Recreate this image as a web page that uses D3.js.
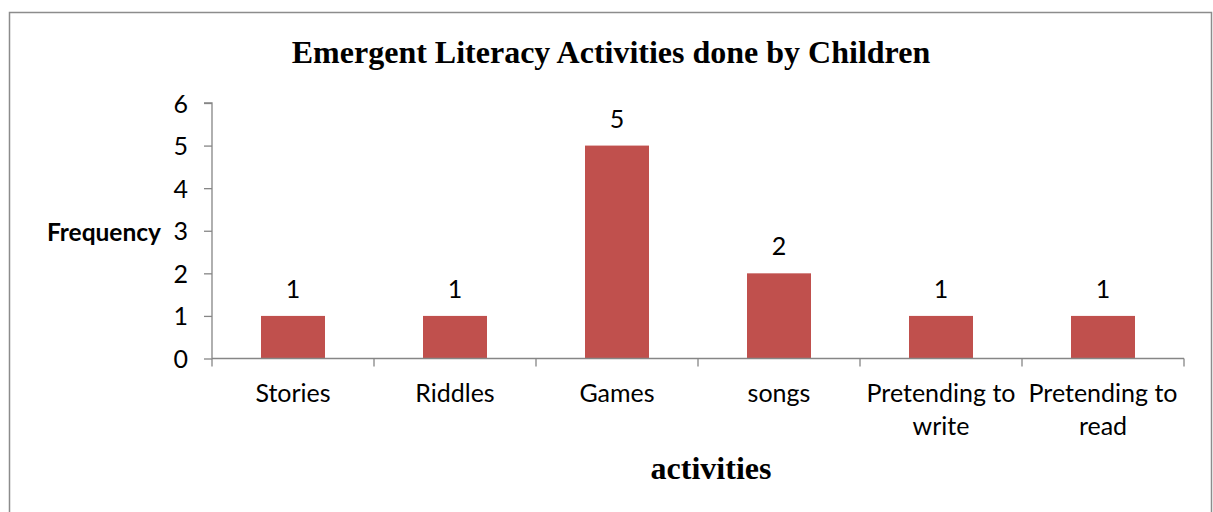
<!DOCTYPE html>
<html><head><meta charset="utf-8">
<script src="https://cdn.jsdelivr.net/npm/d3@7"></script>
<style>body{margin:0;background:#fff}svg{display:block}</style>
</head><body>
<svg id="c" width="1213" height="512"></svg>
<script>
const categories = [["Stories"],["Riddles"],["Games"],["songs"],["Pretending to","write"],["Pretending to","read"]];
const values = [1,1,5,2,1,1];
const yTicks = [0,1,2,3,4,5,6];
const title = "Emergent Literacy Activities done by Children";
const xTitle = "activities";
const yTitle = "Frequency";

(function(){
const svg = d3.select("#c");
const sans = "Lato, 'Open Sans', sans-serif";
const serif = "'Liberation Serif', 'Times New Roman', serif";
const axisColor = "#868686";

svg.append("rect").attr("x",9.5).attr("y",12.5).attr("width",1202).attr("height",520)
  .attr("fill","none").attr("stroke","#8c8c8c").attr("stroke-width",1.5);

const pLeft = 212, pRight = 1184, pTop = 103, pBottom = 358.5;
const keys = categories.map((c,i)=>i);
const x = d3.scaleBand().domain(keys).range([pLeft,pRight]).paddingInner(0.605).paddingOuter(0.3025);
const xEdges = d3.scalePoint().domain(d3.range(categories.length+1)).range([pLeft,pRight]);
const y = d3.scaleLinear().domain([0,6]).range([pBottom,pTop]);

svg.selectAll("rect.bar").data(values).enter().append("rect").attr("class","bar")
  .attr("x",(d,i)=>x(i)).attr("width",x.bandwidth())
  .attr("y",d=>y(d)).attr("height",d=>y(0)-y(d)).attr("fill","#C0504D");

const ya = svg.append("g").attr("transform",`translate(${pLeft},0)`)
  .call(d3.axisLeft(y).tickValues(yTicks).tickSize(8).tickPadding(16).tickFormat(d3.format("d")));
ya.select(".domain").attr("stroke",axisColor).attr("stroke-width",1.3).attr("d",`M-8,${y(6)}H0V${y(0)}`);
ya.selectAll(".tick line").attr("stroke",axisColor).attr("stroke-width",1.3);
ya.selectAll(".tick text").attr("font-family",sans).attr("font-size",25).attr("fill","#000").attr("dy","0.36em");

const xa = svg.append("g").attr("transform",`translate(0,${pBottom})`);
xa.append("line").attr("x1",pLeft).attr("x2",pRight).attr("stroke",axisColor).attr("stroke-width",1.3);
xa.selectAll("line.t").data(xEdges.domain()).enter().append("line").attr("class","t")
  .attr("x1",d=>xEdges(d)).attr("x2",d=>xEdges(d)).attr("y1",0).attr("y2",8)
  .attr("stroke",axisColor).attr("stroke-width",1.3);
const lab = xa.selectAll("text.c").data(categories).enter().append("text").attr("class","c")
  .attr("font-family",sans).attr("font-size",25).attr("text-anchor","middle").attr("fill","#000");
lab.each(function(d,i){
  const t = d3.select(this);
  d.forEach((s,j)=>t.append("tspan").attr("x",x(i)+x.bandwidth()/2).attr("y",43+j*33).text(s));
});

svg.selectAll("text.v").data(values).enter().append("text").attr("class","v")
  .attr("x",(d,i)=>x(i)+x.bandwidth()/2).attr("y",d=>y(d)-18)
  .attr("text-anchor","middle").attr("font-family",sans).attr("font-size",25).attr("fill","#000").text(d=>d);

svg.append("text").attr("x",611).attr("y",63).attr("text-anchor","middle")
  .attr("font-family",serif).attr("font-weight","bold").attr("font-size",32).text(title);
svg.append("text").attr("x",711).attr("y",479).attr("text-anchor","middle")
  .attr("font-family",serif).attr("font-weight","bold").attr("font-size",32).text(xTitle);
svg.append("text").attr("x",161).attr("y",241).attr("text-anchor","end")
  .attr("font-family",sans).attr("font-weight","bold").attr("font-size",24.5).text(yTitle);
})();
</script>
</body></html>
